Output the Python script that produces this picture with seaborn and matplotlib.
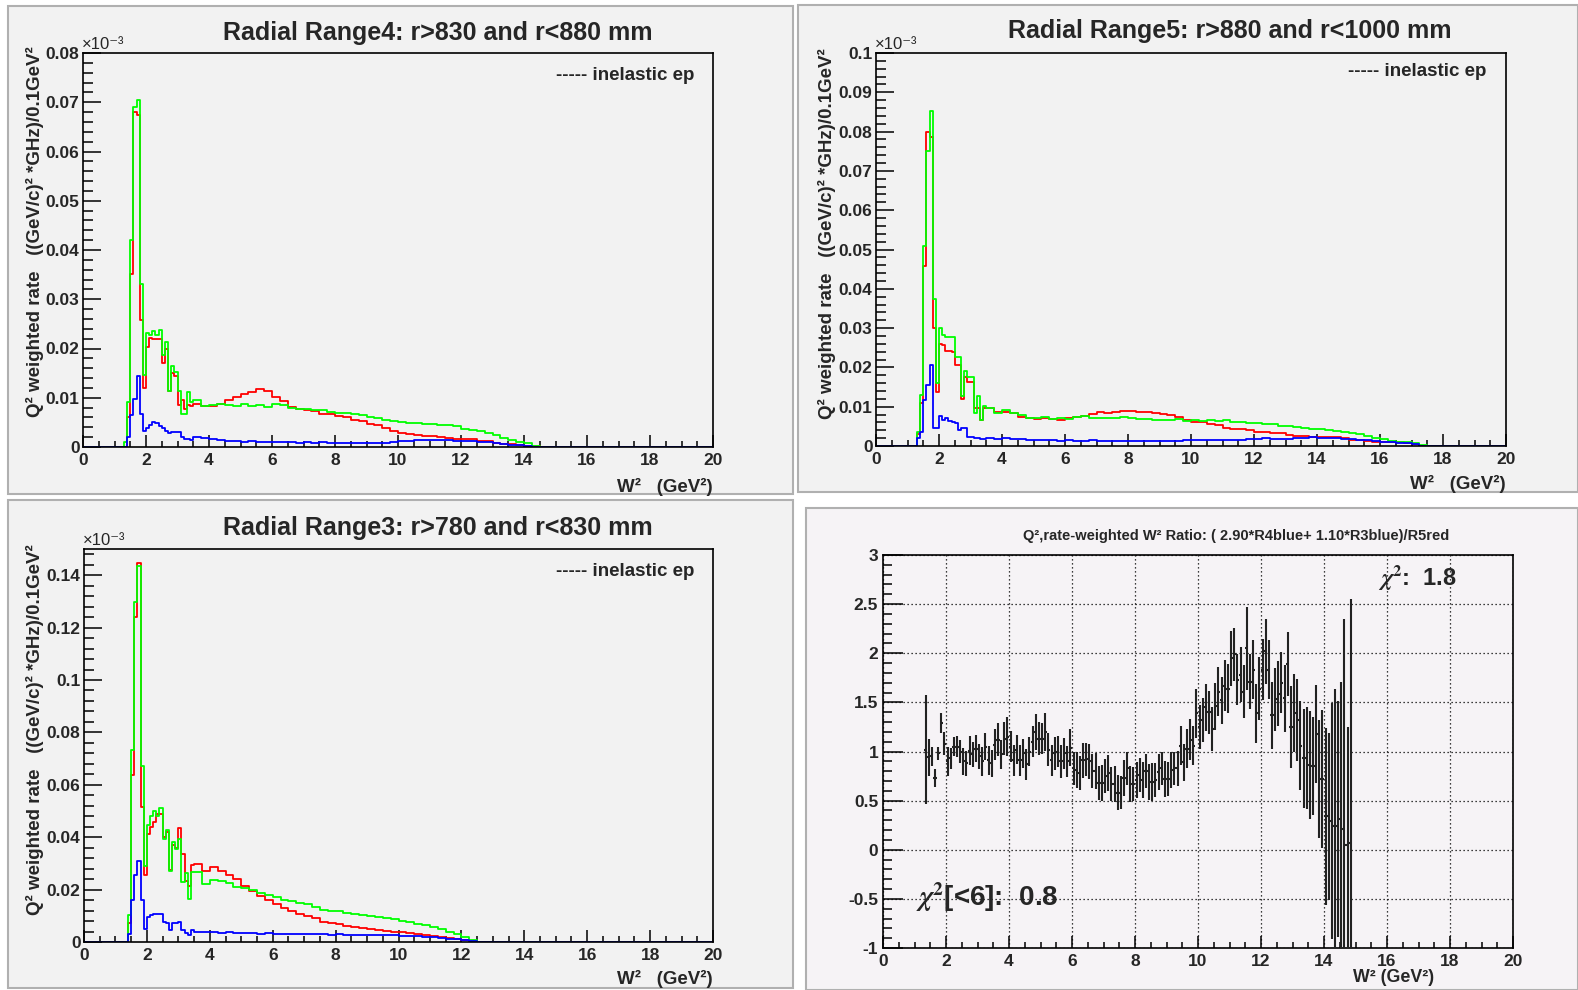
import numpy as np
import pandas as pd
import matplotlib
matplotlib.use("Agg")
import matplotlib.pyplot as plt
import seaborn as sns
from matplotlib.patches import Rectangle
from matplotlib.ticker import MultipleLocator, FuncFormatter

# W^2 binning: 0.1 GeV^2 bins from 1.3 to 3.5, 0.25 GeV^2 bins from 3.5 to 17.5
fine_edges = np.round(np.arange(1.3, 3.5001, 0.1), 2)
tail_edges = np.round(np.arange(3.75, 17.5001, 0.25), 2)
edges = np.concatenate([[0.0], fine_edges, tail_edges, [20.0]])

# ---------------- Radial Range4 (x1e-3) ----------------
r4_red_fine = [0.0, 0.0061, 0.0351, 0.0681, 0.0675, 0.0258, 0.0120, 0.0204, 0.0222, 0.0220, 0.0220,
               0.0220, 0.0170, 0.0200, 0.0113, 0.0150, 0.0145, 0.0085, 0.0095, 0.0078, 0.0085, 0.0083]
r4_green_fine = [0.0010, 0.0092, 0.0420, 0.0690, 0.0705, 0.0330, 0.0146, 0.0231, 0.0228, 0.0235, 0.0228,
                 0.0237, 0.0186, 0.0214, 0.0114, 0.0164, 0.0153, 0.0113, 0.0068, 0.0068, 0.0112, 0.0092]
r4_blue_fine = [0.0, 0.0020, 0.0064, 0.0098, 0.0144, 0.0068, 0.0032, 0.0038, 0.0045, 0.0050, 0.0048,
                0.0043, 0.0038, 0.0032, 0.0028, 0.0030, 0.0030, 0.0030, 0.0020, 0.0017, 0.0017, 0.0015]
r4_red_tail = [0.0088, 0.0083, 0.0083, 0.0087, 0.0095, 0.0102, 0.0108, 0.0112,
               0.0118, 0.0113, 0.0102, 0.0093, 0.0082, 0.0078, 0.0076, 0.0074,
               0.0068, 0.0066, 0.0062, 0.0060, 0.0055, 0.0052, 0.0047, 0.0045,
               0.0038, 0.0032, 0.0028, 0.0026, 0.0024, 0.0022, 0.0022, 0.0021,
               0.0019, 0.0017, 0.0017, 0.0016, 0.0013, 0.0012, 0.0009, 0.0007,
               0.0006, 0.0004, 0.0003, 0.0002, 0, 0, 0, 0,
               0, 0, 0, 0, 0, 0, 0, 0]
r4_green_tail = [0.0095, 0.0083, 0.0085, 0.0088, 0.0086, 0.0084, 0.0087, 0.0083,
                 0.0085, 0.0082, 0.0088, 0.0085, 0.0079, 0.0078, 0.0077, 0.0075,
                 0.0076, 0.0072, 0.0070, 0.0069, 0.0066, 0.0064, 0.0060, 0.0058,
                 0.0055, 0.0052, 0.0051, 0.0049, 0.0048, 0.0047, 0.0046, 0.0044,
                 0.0045, 0.0042, 0.0036, 0.0034, 0.0033, 0.0028, 0.0025, 0.0018,
                 0.0015, 0.0011, 0.0008, 0.0002, 0, 0, 0, 0,
                 0, 0, 0, 0, 0, 0, 0, 0]
r4_blue_tail = [0.0021, 0.0018, 0.0016, 0.0014, 0.0012, 0.0012, 0.0011, 0.0012,
                0.0011, 0.0011, 0.0010, 0.0011, 0.0010, 0.0009, 0.0010, 0.0009,
                0.0010, 0.0009, 0.0009, 0.0008, 0.0009, 0.0008, 0.0009, 0.0008,
                0.0009, 0.0011, 0.0012, 0.0012, 0.0014, 0.0015, 0.0015, 0.0014,
                0.0015, 0.0013, 0.0013, 0.0012, 0.0011, 0.0010, 0.0008, 0.0006,
                0.0005, 0.0004, 0.0003, 0.0001, 0, 0, 0, 0,
                0, 0, 0, 0, 0, 0, 0, 0]

# ---------------- Radial Range5 (x1e-3) ----------------
r5_red_fine = [0.0030, 0.0110, 0.0458, 0.0800, 0.0785, 0.0300, 0.0138, 0.0260, 0.0258, 0.0243, 0.0243,
               0.0240, 0.0206, 0.0206, 0.0120, 0.0176, 0.0164, 0.0164, 0.0096, 0.0096, 0.0066, 0.0096]
r5_green_fine = [0.0036, 0.0130, 0.0510, 0.0751, 0.0852, 0.0374, 0.0160, 0.0300, 0.0282, 0.0278, 0.0277,
                 0.0277, 0.0227, 0.0227, 0.0126, 0.0190, 0.0176, 0.0176, 0.0085, 0.0126, 0.0066, 0.0102]
r5_blue_fine = [0.0020, 0.0036, 0.0117, 0.0155, 0.0206, 0.0045, 0.0045, 0.0076, 0.0066, 0.0070, 0.0064,
                0.0062, 0.0058, 0.0040, 0.0045, 0.0047, 0.0024, 0.0022, 0.0020, 0.0020, 0.0018, 0.0018]
r5_red_tail = [0.0096, 0.0087, 0.0087, 0.0085, 0.0075, 0.0070, 0.0068, 0.0070,
               0.0068, 0.0067, 0.0070, 0.0074, 0.0077, 0.0082, 0.0086, 0.0084,
               0.0087, 0.0088, 0.0089, 0.0086, 0.0087, 0.0085, 0.0082, 0.0079,
               0.0074, 0.0065, 0.0062, 0.0060, 0.0056, 0.0053, 0.0047, 0.0044,
               0.0042, 0.0040, 0.0036, 0.0035, 0.0034, 0.0032, 0.0027, 0.0026,
               0.0025, 0.0024, 0.0024, 0.0024, 0.0023, 0.0020, 0.0016, 0.0015,
               0.0013, 0.0011, 0.0011, 0.0010, 0.0009, 0.0008, 0.0004, 0]
r5_green_tail = [0.0096, 0.0085, 0.0092, 0.0083, 0.0078, 0.0072, 0.0070, 0.0074,
                 0.0068, 0.0070, 0.0068, 0.0074, 0.0076, 0.0071, 0.0070, 0.0072,
                 0.0071, 0.0074, 0.0070, 0.0068, 0.0069, 0.0066, 0.0067, 0.0066,
                 0.0068, 0.0064, 0.0066, 0.0064, 0.0066, 0.0063, 0.0065, 0.0062,
                 0.0061, 0.0059, 0.0058, 0.0056, 0.0055, 0.0052, 0.0051, 0.0049,
                 0.0047, 0.0043, 0.0042, 0.0040, 0.0038, 0.0035, 0.0033, 0.0030,
                 0.0025, 0.0020, 0.0017, 0.0013, 0.0011, 0.0009, 0.0007, 0.0003]
r5_blue_tail = [0.0020, 0.0019, 0.0020, 0.0017, 0.0017, 0.0015, 0.0016, 0.0014,
                0.0015, 0.0013, 0.0014, 0.0013, 0.0013, 0.0014, 0.0012, 0.0013,
                0.0013, 0.0012, 0.0013, 0.0012, 0.0012, 0.0013, 0.0012, 0.0012,
                0.0013, 0.0014, 0.0014, 0.0015, 0.0014, 0.0015, 0.0014, 0.0016,
                0.0015, 0.0017, 0.0018, 0.0020, 0.0019, 0.0018, 0.0019, 0.0020,
                0.0021, 0.0022, 0.0021, 0.0020, 0.0020, 0.0019, 0.0017, 0.0016,
                0.0014, 0.0012, 0.0011, 0.0010, 0.0008, 0.0007, 0.0004, 0]

# ---------------- Radial Range3 (x1e-3) ----------------
r3_red_fine = [0.0, 0.0072, 0.0636, 0.1240, 0.1445, 0.0515, 0.0254, 0.0413, 0.0439, 0.0458, 0.0490,
               0.0490, 0.0400, 0.0420, 0.0273, 0.0369, 0.0360, 0.0436, 0.0334, 0.0233, 0.0215, 0.0292]
r3_green_fine = [0.0, 0.0102, 0.0733, 0.1297, 0.1437, 0.0670, 0.0289, 0.0445, 0.0480, 0.0500, 0.0480,
                 0.0512, 0.0394, 0.0426, 0.0270, 0.0380, 0.0356, 0.0394, 0.0229, 0.0263, 0.0165, 0.0267]
r3_blue_fine = [0.0, 0.0030, 0.0161, 0.0254, 0.0309, 0.0159, 0.0051, 0.0095, 0.0102, 0.0108, 0.0108,
                0.0108, 0.0076, 0.0072, 0.0047, 0.0072, 0.0072, 0.0076, 0.0047, 0.0034, 0.0025, 0.0044]
r3_red_tail = [0.0298, 0.0270, 0.0285, 0.0270, 0.0255, 0.0240, 0.0215, 0.0195,
               0.0175, 0.0162, 0.0145, 0.0130, 0.0118, 0.0105, 0.0098, 0.0090,
               0.0078, 0.0072, 0.0068, 0.0062, 0.0058, 0.0052, 0.0050, 0.0046,
               0.0043, 0.0040, 0.0038, 0.0034, 0.0030, 0.0028, 0.0024, 0.0020,
               0.0016, 0.0012, 0.0008, 0.0003, 0, 0, 0, 0,
               0, 0, 0, 0, 0, 0, 0, 0,
               0, 0, 0, 0, 0, 0, 0, 0]
r3_green_tail = [0.0267, 0.0220, 0.0235, 0.0232, 0.0225, 0.0210, 0.0205, 0.0200,
                 0.0188, 0.0180, 0.0172, 0.0162, 0.0156, 0.0148, 0.0145, 0.0132,
                 0.0124, 0.0120, 0.0118, 0.0112, 0.0108, 0.0104, 0.0098, 0.0094,
                 0.0090, 0.0086, 0.0082, 0.0076, 0.0070, 0.0064, 0.0058, 0.0048,
                 0.0040, 0.0030, 0.0018, 0.0008, 0, 0, 0, 0,
                 0, 0, 0, 0, 0, 0, 0, 0,
                 0, 0, 0, 0, 0, 0, 0, 0]
r3_blue_tail = [0.0040, 0.0038, 0.0038, 0.0036, 0.0038, 0.0035, 0.0033, 0.0034,
                0.0032, 0.0033, 0.0031, 0.0032, 0.0030, 0.0031, 0.0030, 0.0029,
                0.0030, 0.0028, 0.0029, 0.0028, 0.0027, 0.0028, 0.0026, 0.0027,
                0.0025, 0.0026, 0.0024, 0.0023, 0.0022, 0.0020, 0.0018, 0.0016,
                0.0013, 0.0010, 0.0006, 0.0002, 0, 0, 0, 0,
                0, 0, 0, 0, 0, 0, 0, 0,
                0, 0, 0, 0, 0, 0, 0, 0]

# ---------------- ratio (2.90*R4blue + 1.10*R3blue)/R5red ----------------
ratio_w = np.round(np.arange(1.35, 14.851, 0.1), 2)
ratio_val = [1.02, 0.94, 0.95, 0.73, 0.98, 1.29, 1.08, 0.90, 0.93, 1.05,
             1.05, 1.00, 0.90, 0.88, 1.01, 0.97, 1.03, 0.95, 0.90, 1.05,
             0.91, 0.88, 1.07, 1.12, 0.97, 1.13, 1.15, 1.05, 0.91, 1.02,
             0.91, 0.98, 0.87, 1.00, 1.10, 1.20, 1.13, 1.13, 1.20, 1.02,
             0.91, 0.98, 1.00, 0.90, 0.98, 0.90, 1.04, 0.83, 0.81, 0.78,
             0.91, 0.92, 0.90, 0.80, 0.80, 0.68, 0.68, 0.75, 0.78, 0.67,
             0.67, 0.58, 0.58, 0.73, 0.83, 0.67, 0.67, 0.71, 0.76, 0.71,
             0.80, 0.69, 0.69, 0.71, 0.79, 0.83, 0.72, 0.72, 0.81, 0.83,
             0.83, 1.06, 0.89, 1.03, 1.12, 1.06, 1.39, 1.25, 1.32, 1.45,
             1.40, 1.23, 1.46, 1.61, 1.52, 1.67, 1.64, 1.95, 1.99, 1.73,
             1.78, 1.61, 2.05, 1.71, 1.83, 1.39, 1.64, 1.83, 2.02, 1.83,
             1.37, 1.53, 1.59, 1.70, 1.54, 1.89, 1.25, 1.39, 1.32, 1.06,
             0.93, 0.93, 0.86, 0.85, 1.18, 0.72, 0.72, 0.34, 0.34, 0.29,
             0.24, 0.31, 0.21, 0.05, 0.05, 0.07]
ratio_err = [0.55, 0.19, 0.10, 0.09, 0.07, 0.10, 0.12, 0.15, 0.11, 0.10,
             0.11, 0.12, 0.14, 0.13, 0.15, 0.13, 0.14, 0.13, 0.15, 0.14,
             0.15, 0.14, 0.16, 0.17, 0.15, 0.17, 0.20, 0.16, 0.16, 0.15,
             0.16, 0.15, 0.16, 0.15, 0.16, 0.18, 0.17, 0.16, 0.19, 0.17,
             0.16, 0.17, 0.16, 0.17, 0.16, 0.16, 0.19, 0.17, 0.18, 0.17,
             0.18, 0.17, 0.18, 0.17, 0.18, 0.17, 0.18, 0.17, 0.18, 0.17,
             0.18, 0.18, 0.17, 0.18, 0.17, 0.18, 0.17, 0.18, 0.17, 0.18,
             0.17, 0.18, 0.19, 0.17, 0.18, 0.17, 0.18, 0.17, 0.18, 0.17,
             0.18, 0.20, 0.19, 0.20, 0.21, 0.20, 0.25, 0.22, 0.22, 0.24,
             0.22, 0.22, 0.24, 0.25, 0.24, 0.26, 0.25, 0.28, 0.27, 0.26,
             0.28, 0.27, 0.42, 0.28, 0.30, 0.30, 0.32, 0.31, 0.33, 0.30,
             0.34, 0.32, 0.33, 0.31, 0.34, 0.33, 0.42, 0.40, 0.42, 0.45,
             0.50, 0.52, 0.55, 0.50, 0.50, 0.60, 0.70, 0.90, 0.85, 1.20,
             1.40, 1.20, 1.50, 2.30, 1.20, 2.48]


def full(fine, tail):
    v = np.concatenate([[0.0], fine, tail, [0.0]])
    # repeat the last bin so steps-post reaches the right edge
    return np.append(v, v[-1])


sns.set_style("ticks")
plt.rcParams['font.family'] = ['Liberation Sans', 'DejaVu Sans']
plt.rcParams['font.weight'] = 'bold'
plt.rcParams['mathtext.fontset'] = 'stix'

W, H = 1578, 990
fig = plt.figure(figsize=(W / 100, H / 100), dpi=100)
fig.patch.set_facecolor('white')

PAD = '#f2f2f2'
PAD_RATIO = '#f6f3f6'


def px_box(l, t, r, b):
    return [l / W, 1 - b / H, (r - l) / W, (b - t) / H]


def pad(l, t, r, b, col):
    fig.add_artist(Rectangle((l / W, 1 - b / H), (r - l) / W, (b - t) / H,
                             transform=fig.transFigure, facecolor=col,
                             edgecolor='#b0b0b0', lw=1.5, zorder=-5))


def ftext(x, y, s, **kw):
    fig.text(x / W, 1 - y / H, s, **kw)


fmt = FuncFormatter(lambda v, p: f"{round(v, 6):g}")


def style_axes(ax, col, ymaj, ymin, ylen=13, yminlen=7.5):
    ax.set_facecolor(col)
    ax.xaxis.set_major_locator(MultipleLocator(2))
    ax.xaxis.set_minor_locator(MultipleLocator(0.5))
    ax.yaxis.set_major_locator(MultipleLocator(ymaj))
    ax.yaxis.set_minor_locator(MultipleLocator(ymin))
    ax.xaxis.set_major_formatter(fmt)
    ax.yaxis.set_major_formatter(fmt)
    ax.tick_params(axis='y', which='major', direction='in', length=ylen, width=1.1,
                   labelsize=12.5, pad=2.5, color='black')
    ax.tick_params(axis='y', which='minor', direction='in', length=yminlen, width=1.1, color='black')
    ax.tick_params(axis='x', which='major', direction='in', length=8.5, width=1.1,
                   labelsize=12.5, pad=4, color='black')
    ax.tick_params(axis='x', which='minor', direction='in', length=4.3, width=1.1, color='black')
    for s in ax.spines.values():
        s.set_linewidth(1.2)
        s.set_color('black')
    ax.set_xlabel('')
    ax.set_ylabel('')


def hist_panel(box, red, green, blue, ymax, ymaj, ymin):
    ax = fig.add_axes(px_box(*box))
    for vals, col in [(red, '#ff0000'), (green, '#00ff00'), (blue, '#0000ff')]:
        df = pd.DataFrame({'w2': edges, 'rate': vals})
        sns.lineplot(data=df, x='w2', y='rate', drawstyle='steps-post', estimator=None,
                     sort=False, color=col, linewidth=1.3, ax=ax)
    ax.set_xlim(0, 20)
    ax.set_ylim(0, ymax)
    style_axes(ax, PAD, ymaj, ymin)
    return ax


ylab = "Q² weighted rate   ((GeV/c)² *GHz)/0.1GeV²"
TITLE_FS = 18
LEG_FS = 13.5
XLAB_FS = 13.5
YLAB_FS = 13.5

# pads
pad(8, 6, 793, 494, PAD)
pad(798, 5, 1578, 492, PAD)
pad(8, 500, 793, 988, PAD)
pad(806, 508, 1578, 990, PAD_RATIO)

# Range4
hist_panel((83, 53, 713, 447), full(r4_red_fine, r4_red_tail), full(r4_green_fine, r4_green_tail),
           full(r4_blue_fine, r4_blue_tail), 0.08, 0.01, 0.002)
ftext(438, 33, "Radial Range4: r>830 and r<880 mm", ha='center', va='center', fontsize=TITLE_FS)
ftext(694, 75, "----- inelastic ep", ha='right', va='center', fontsize=LEG_FS)
ftext(82, 52, "×10⁻³", ha='left', va='bottom', fontsize=12, fontweight='normal')
ftext(35, 232, ylab, ha='center', va='center', rotation=90, fontsize=YLAB_FS)
ftext(713, 487, "W²   (GeV²)", ha='right', va='center', fontsize=XLAB_FS)

# Range5
hist_panel((876, 53, 1506, 446), full(r5_red_fine, r5_red_tail), full(r5_green_fine, r5_green_tail),
           full(r5_blue_fine, r5_blue_tail), 0.1, 0.01, 0.002)
ftext(1230, 31, "Radial Range5: r>880 and r<1000 mm", ha='center', va='center', fontsize=TITLE_FS)
ftext(1486, 72, "----- inelastic ep", ha='right', va='center', fontsize=LEG_FS)
ftext(875, 52, "×10⁻³", ha='left', va='bottom', fontsize=12, fontweight='normal')
ftext(827, 234, ylab, ha='center', va='center', rotation=90, fontsize=YLAB_FS)
ftext(1506, 484, "W²   (GeV²)", ha='right', va='center', fontsize=XLAB_FS)

# Range3
hist_panel((84, 549, 713, 942), full(r3_red_fine, r3_red_tail), full(r3_green_fine, r3_green_tail),
           full(r3_blue_fine, r3_blue_tail), 0.15, 0.02, 0.004)
ftext(438, 528, "Radial Range3: r>780 and r<830 mm", ha='center', va='center', fontsize=TITLE_FS)
ftext(694, 571, "----- inelastic ep", ha='right', va='center', fontsize=LEG_FS)
ftext(83, 548, "×10⁻³", ha='left', va='bottom', fontsize=12, fontweight='normal')
ftext(35, 730, ylab, ha='center', va='center', rotation=90, fontsize=YLAB_FS)
ftext(713, 979, "W²   (GeV²)", ha='right', va='center', fontsize=XLAB_FS)

# ratio panel
axr = fig.add_axes(px_box(883, 555, 1513, 948))
axr.set_axisbelow(True)
axr.grid(True, which='major', color='black', linestyle=(0, (1, 2.2)), linewidth=0.9)
axr.errorbar(ratio_w, ratio_val, xerr=0.05, yerr=ratio_err, fmt='none',
             ecolor='#222222', elinewidth=1.5, capsize=0, zorder=3)
axr.set_xlim(0, 20)
axr.set_ylim(-1, 3)
style_axes(axr, PAD_RATIO, 0.5, 0.1, ylen=14.5, yminlen=6.5)
axr.tick_params(axis='y', which='major', pad=3.5)
ftext(1236, 536, "Q²,rate-weighted W² Ratio: ( 2.90*R4blue+ 1.10*R3blue)/R5red",
      ha='center', va='center', fontsize=10.5)
ftext(1434, 978, "W² (GeV²)", ha='right', va='center', fontsize=12.8)
ftext(1378, 578, r"$\chi^{2}$:  1.8", ha='left', va='center', fontsize=17)
ftext(916, 897, r"$\chi^{2}$[<6]:  0.8", ha='left', va='center', fontsize=20)

fig.savefig("out.png", dpi=100)
